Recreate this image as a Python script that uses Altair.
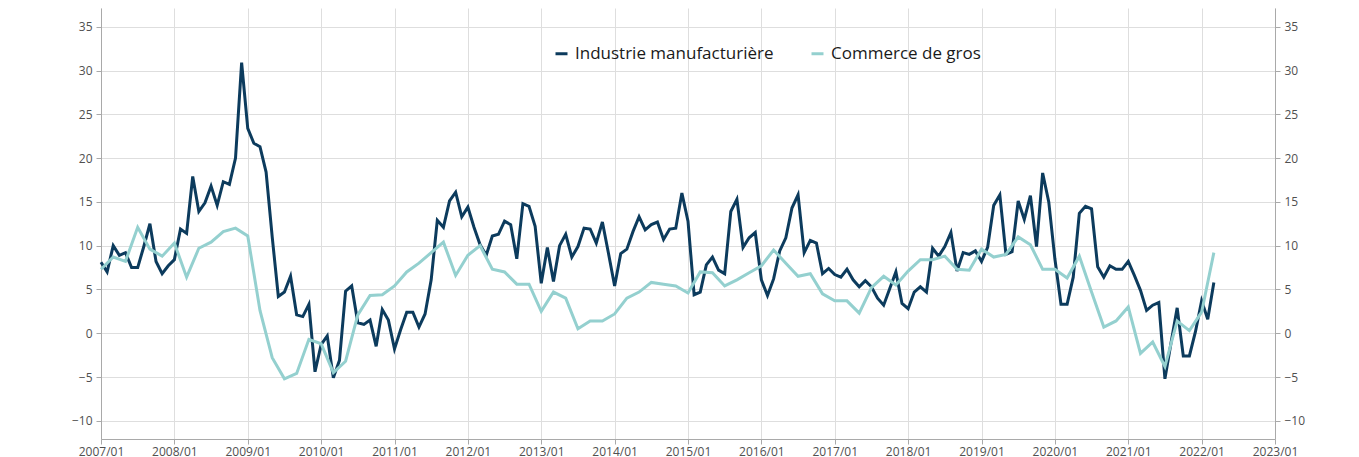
import altair as alt
import pandas as pd

series_names = ["Industrie manufacturière", "Commerce de gros"]
series_colors = ["#0c3b5d", "#94d0cf"]

# Monthly, 2007/01 .. 2022/03
industrie = [
    8.1, 7.0, 10.0, 8.9, 9.2, 7.5, 7.5, 9.9, 12.5, 8.2, 6.8, 7.7,
    8.4, 11.9, 11.4, 17.9, 13.9, 14.9, 16.8, 14.6, 17.3, 17.0, 20.0, 30.9,
    23.4, 21.7, 21.3, 18.4, 11.0, 4.2, 4.7, 6.5, 2.1, 1.9, 3.3, -4.4,
    -1.3, -0.3, -5.1, -3.1, 4.8, 5.4, 1.2, 1.0, 1.5, -1.5, 2.7, 1.5,
    -1.8, 0.4, 2.4, 2.4, 0.7, 2.2, 6.1, 12.9, 12.1, 15.1, 16.1, 13.3,
    14.4, 12.1, 10.1, 8.9, 11.1, 11.3, 12.8, 12.4, 8.5, 14.8, 14.5, 12.2,
    5.7, 9.8, 5.9, 10.0, 11.3, 8.7, 9.9, 12.0, 11.9, 10.3, 12.7, 9.1,
    5.4, 9.1, 9.6, 11.6, 13.3, 11.8, 12.4, 12.7, 10.7, 11.9, 12.0, 16.0,
    12.8, 4.4, 4.7, 7.8, 8.7, 7.2, 6.8, 13.9, 15.3, 9.8, 10.9, 11.5,
    6.1, 4.3, 6.2, 9.4, 10.9, 14.3, 15.8, 9.2, 10.6, 10.3, 6.8, 7.4,
    6.7, 6.4, 7.3, 6.1, 5.3, 6.0, 5.3, 4.0, 3.2, 5.1, 7.0, 3.4,
    2.8, 4.7, 5.3, 4.7, 9.7, 8.8, 9.9, 11.5, 7.1, 9.2, 9.0, 9.4,
    8.2, 9.8, 14.6, 15.8, 9.0, 9.3, 15.1, 13.0, 15.7, 9.9, 18.3, 15.0,
    8.5, 3.3, 3.3, 6.4, 13.7, 14.5, 14.2, 7.6, 6.4, 7.7, 7.3, 7.3,
    8.2, 6.6, 4.9, 2.6, 3.2, 3.5, -5.2, -1.1, 2.9, -2.6, -2.6, 0.2,
    3.7, 1.6, 5.8,
]

# Bimonthly (odd months), 2007/01 .. 2022/03
commerce = [
    7.3, 8.7, 8.2, 12.1, 9.6, 8.8,
    10.3, 6.4, 9.7, 10.4, 11.6, 12.0,
    11.1, 2.6, -2.8, -5.2, -4.6, -0.7,
    -1.2, -4.5, -3.2, 2.1, 4.3, 4.4,
    5.4, 7.0, 8.0, 9.2, 10.4, 6.6,
    8.9, 10.0, 7.3, 7.0, 5.6, 5.6,
    2.5, 4.7, 4.0, 0.5, 1.4, 1.4,
    2.2, 4.0, 4.7, 5.8, 5.6, 5.4,
    4.6, 7.0, 6.9, 5.4, 6.1, 6.9,
    7.7, 9.5, 8.0, 6.5, 6.8, 4.5,
    3.7, 3.7, 2.3, 5.2, 6.5, 5.5,
    7.1, 8.4, 8.4, 8.8, 7.3, 7.2,
    9.6, 8.7, 9.0, 11.0, 10.1, 7.3,
    7.3, 6.3, 8.8, 4.7, 0.7, 1.4,
    3.0, -2.3, -1.0, -3.8, 1.4, 0.3,
    2.4, 9.2,
]

year_ticks = list(range(2007, 2024))
y_ticks = [-10, -5, 0, 5, 10, 15, 20, 25, 30, 35]

rows = []
for i, v in enumerate(industrie):
    rows.append({"serie": series_names[0], "t": 2007 + i / 12, "value": v})
for i, v in enumerate(commerce):
    rows.append({"serie": series_names[1], "t": 2007 + 2 * i / 12, "value": v})
df = pd.DataFrame(rows)

x_enc = alt.X(
    "t:Q",
    scale=alt.Scale(domain=[2007, 2023], nice=False, zero=False),
    axis=alt.Axis(values=year_ticks, labelExpr="datum.value + '/01'", title=None,
                  grid=True, tickSize=5, labelPadding=2, labelFlush=False,
                  labelOverlap=False, labelBound=False),
)
y_scale = alt.Scale(domain=[-12.08, 37.14], nice=False, zero=False)

lines = alt.Chart(df).mark_line(strokeWidth=3).encode(
    x=x_enc,
    y=alt.Y("value:Q", scale=y_scale,
            axis=alt.Axis(values=y_ticks, title=None, grid=True, orient="left",
                          tickSize=5, labelPadding=4)),
    color=alt.Color(
        "serie:N",
        scale=alt.Scale(domain=series_names, range=series_colors),
        legend=alt.Legend(orient="none", legendX=452, legendY=37, direction="horizontal",
                          title=None, symbolType="stroke", symbolSize=144,
                          symbolStrokeWidth=3, labelFont="Open Sans", labelFontSize=17,
                          labelColor="#1a1a1a", columnPadding=31, labelOffset=5,
                          labelLimit=0),
    ),
    detail="serie:N",
)

right = alt.Chart(df).mark_line(opacity=0).encode(
    x=x_enc,
    y=alt.Y("value:Q", scale=y_scale,
            axis=alt.Axis(values=y_ticks, title=None, grid=False, orient="right",
                          tickSize=5, labelPadding=4)),
    detail="serie:N",
)

chart = alt.layer(lines, right).resolve_axis(y="independent").properties(
    width=1174, height=431,
    autosize=alt.AutoSizeParams(type="none"),
    padding={"left": 93, "top": 0, "right": 70, "bottom": 20},
    background="white",
).configure_axis(
    labelFont="Open Sans", labelFontSize=12, labelColor="#505050",
    gridColor="#dedede", domainColor="#a9a9a9", tickColor="#a9a9a9",
).configure_view(stroke="transparent")

chart.save("out.html", embed_options={"renderer": "svg", "actions": False})
